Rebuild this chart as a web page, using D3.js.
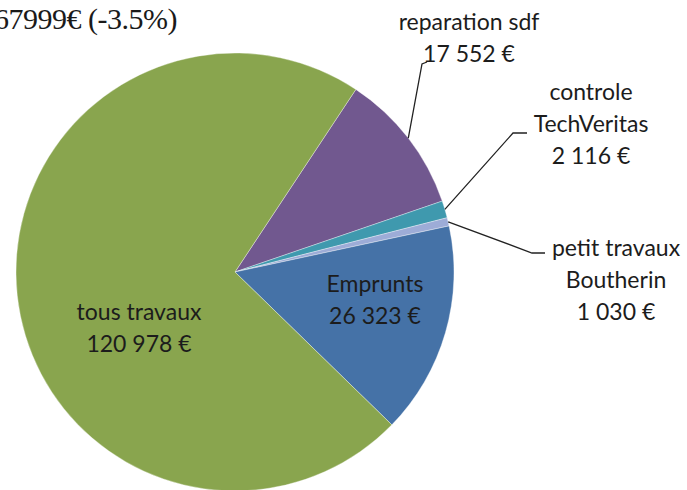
<!DOCTYPE html>
<html>
<head>
<meta charset="utf-8">
<script src="https://cdn.jsdelivr.net/npm/d3@7"></script>
<style>
  body { margin: 0; background: #fff; }
  svg { display: block; }
  .label { font-family: Lato, "Open Sans", sans-serif; font-size: 23px; fill: #1c1c1c; }
  .title { font-family: "Liberation Serif", serif; font-size: 30px; fill: #1a1a1a; }
</style>
</head>
<body>
<div class="container"></div>
<script>
  var width = 687,
    height = 490,
    radius = 219;

  // chart data, pie order clockwise from the purple slice
  var categories = ["reparation sdf", "controle TechVeritas", "petit travaux Boutherin", "Emprunts", "tous travaux"];
  var values = [17552, 2116, 1030, 26323, 120978];
  var valueLabels = ["17 552 €", "2 116 €", "1 030 €", "26 323 €", "120 978 €"];
  var labelLines = [["reparation sdf"], ["controle", "TechVeritas"], ["petit travaux", "Boutherin"], ["Emprunts"], ["tous travaux"]];
  var colors = ["#71588f", "#3f99ae", "#9dacd7", "#4572a7", "#89a54e"];
  var titleText = "167999€ (-3.5%)";

  // label layout: x, y of the first baseline, optional leader elbow
  var layout = [
    { x: 469, y: 30, elbow: [[422, 64], [427, 62]] },
    { x: 591, y: 100, elbow: [[513, 133], [527, 133]] },
    { x: 616, y: 256, elbow: [[532, 253], [545, 253]] },
    { x: 375, y: 292 },
    { x: 139, y: 320 }
  ];

  var cx = 235, cy = 272;

  var data = categories.map(function(c, i) {
    return { name: c, value: values[i], text: labelLines[i].concat([valueLabels[i]]), color: colors[i], pos: layout[i] };
  });

  var pie = d3.pie()
    .sort(null)
    .value(function(d) { return d.value; })
    .startAngle(33.5 * Math.PI / 180)
    .endAngle(33.5 * Math.PI / 180 + 2 * Math.PI);

  var arc = d3.arc()
    .innerRadius(0)
    .outerRadius(radius);

  var svg = d3.select(".container").append("svg")
    .attr("width", width)
    .attr("height", height);

  var g = svg.append("g")
    .attr("transform", "translate(" + cx + "," + cy + ")");

  var arcs = pie(data);

  g.selectAll(".slice")
    .data(arcs)
    .enter().append("path")
    .attr("class", "slice")
    .attr("d", arc)
    .attr("fill", function(d) { return d.data.color; })
    .attr("stroke", "#ffffff")
    .attr("stroke-opacity", 0.5)
    .attr("stroke-width", 0.7);

  // leader lines for the outside labels
  arcs.forEach(function(d) {
    if (!d.data.pos.elbow) return;
    var a = (d.startAngle + d.endAngle) / 2;
    var start = [cx + radius * Math.sin(a), cy - radius * Math.cos(a)];
    svg.append("path")
      .attr("d", d3.line()([start].concat(d.data.pos.elbow)))
      .attr("fill", "none")
      .attr("stroke", "#222")
      .attr("stroke-width", 1.3);
  });

  var labels = svg.selectAll(".label")
    .data(arcs)
    .enter().append("text")
    .attr("class", "label")
    .attr("text-anchor", "middle");

  labels.each(function(d) {
    var t = d3.select(this);
    d.data.text.forEach(function(line, i) {
      t.append("tspan")
        .attr("x", d.data.pos.x)
        .attr("y", d.data.pos.y + i * 32)
        .text(line);
    });
  });

  svg.append("text")
    .attr("class", "title")
    .attr("x", 177)
    .attr("y", 29)
    .attr("text-anchor", "end")
    .attr("letter-spacing", -0.5)
    .text(titleText);
</script>
</body>
</html>
